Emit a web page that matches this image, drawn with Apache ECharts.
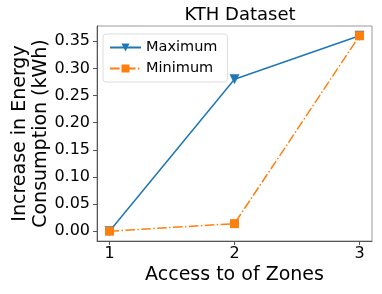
<!DOCTYPE html>
<html><head><meta charset="utf-8">
<script src="https://cdn.jsdelivr.net/npm/echarts@6/dist/echarts.min.js"></script>
<style>html,body{margin:0;padding:0;background:#fff}#c{width:382px;height:294px}</style>
</head><body><div id="c"></div>
<script>
const xValues = [1, 2, 3];
const maximumValues = [0.0, 0.28, 0.36];
const minimumValues = [0.0, 0.014, 0.36];
const xTicks = [1, 2, 3];
const yTicks = [0, 0.05, 0.10, 0.15, 0.20, 0.25, 0.30, 0.35];

const font = 'DejaVu Sans';
const chart = echarts.init(document.getElementById('c'), null, {renderer: 'canvas'});
chart.setOption({
  animation: false,
  backgroundColor: '#fff',
  title: {
    text: 'KTH Dataset', left: 235, top: 1, textAlign: 'center',
    textStyle: {fontFamily: font, fontSize: 18, fontWeight: 'normal', color: '#000'}
  },
  grid: {left: 97, right: 10, top: 26, bottom: 53, show: true, borderColor: '#999', borderWidth: 1,
    outerBoundsMode: 'none', containLabel: false},
  legend: {
    left: 103, top: 34, orient: 'vertical', itemGap: 6, itemWidth: 31, itemHeight: 10,
    padding: [6, 10, 6, 6],
    borderColor: '#ddd', borderWidth: 1, borderRadius: 3, backgroundColor: 'rgba(255,255,255,0.8)',
    textStyle: {fontFamily: font, fontSize: 14.5, color: '#000'},
    data: ['Maximum', 'Minimum']
  },
  xAxis: {
    type: 'value', min: 0.9, max: 3.1,
    name: 'Access to of Zones', nameLocation: 'middle', nameGap: 25, nameMoveOverlap: false,
    nameTextStyle: {fontFamily: font, fontSize: 19, color: '#000'},
    axisLine: {show: true, onZero: false, lineStyle: {color: '#555'}},
    axisTick: {show: true, length: 4, customValues: xTicks, lineStyle: {color: '#555'}},
    axisLabel: {customValues: xTicks, fontFamily: font, fontSize: 16, color: '#000', margin: 5},
    splitLine: {show: false}
  },
  yAxis: {
    type: 'value', min: -0.018, max: 0.378,
    name: 'Increase in Energy\nConsumption (kWh)', nameLocation: 'middle', nameGap: 45, nameMoveOverlap: false,
    nameTextStyle: {fontFamily: font, fontSize: 19, color: '#000', lineHeight: 21},
    axisLine: {show: true, onZero: false, lineStyle: {color: '#555'}},
    axisTick: {show: true, length: 4, customValues: yTicks, lineStyle: {color: '#555'}},
    axisLabel: {customValues: yTicks, fontFamily: font, fontSize: 16, color: '#000', margin: 7,
      formatter: v => v.toFixed(2)},
    splitLine: {show: false}
  },
  series: [
    {
      name: 'Maximum', type: 'line', data: xValues.map((x, i) => [x, maximumValues[i]]),
      color: '#1f77b4', symbol: 'triangle', symbolRotate: 180, symbolSize: 10,
      lineStyle: {width: 1.5}, itemStyle: {color: '#1f77b4'}
    },
    {
      name: 'Minimum', type: 'line', data: xValues.map((x, i) => [x, minimumValues[i]]),
      color: '#ff7f0e', symbol: 'rect', symbolSize: 9,
      lineStyle: {width: 1.5, type: [9.6, 2.4, 1.5, 2.4]}, itemStyle: {color: '#ff7f0e'}
    }
  ]
});
</script></body></html>
